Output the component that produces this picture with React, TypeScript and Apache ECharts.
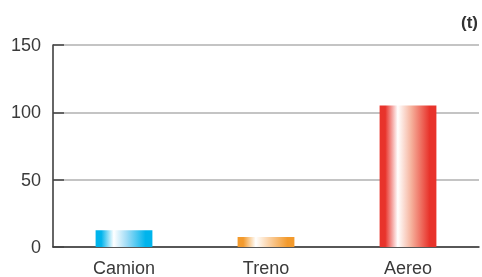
import React, { useEffect, useRef } from "react";
import * as echarts from "echarts";

const categories = ["Camion", "Treno", "Aereo"];
const values = [12.5, 7.5, 105];
const yTicks = { min: 0, max: 150, interval: 50 };
const unitLabel = "(t)";

const barColors = [
  { edge: "#00b4ec", mid: "#9fdcf6" },
  { edge: "#f39a2c", mid: "#fbd2a6" },
  { edge: "#e8332b", mid: "#f6b49f" },
];

const grad = (edge: string, mid: string) =>
  new echarts.graphic.LinearGradient(0, 0, 1, 0, [
    { offset: 0, color: edge },
    { offset: 0.1, color: edge },
    { offset: 0.32, color: "#ffffff" },
    { offset: 0.55, color: mid },
    { offset: 0.88, color: edge },
    { offset: 1, color: edge },
  ]);

export default function App() {
  const ref = useRef<HTMLDivElement>(null);
  useEffect(() => {
    if (!ref.current) return;
    const chart = echarts.init(ref.current, null, { renderer: "svg" });
    const font = "'Liberation Sans', Arial, sans-serif";
    chart.setOption({
      animation: false,
      grid: { left: 53, right: 3, top: 45, bottom: 29, containLabel: false },
      graphic: [
        {
          type: "text",
          right: 4,
          top: 14,
          style: {
            text: unitLabel,
            font: "bold 17px " + font,
            fill: "#333333",
          },
        },
      ],
      xAxis: {
        type: "category",
        data: categories,
        axisLine: { lineStyle: { color: "#333333", width: 1.5 } },
        axisTick: { length: 10, lineStyle: { color: "#444444", width: 1.5 } },
        axisLabel: { color: "#3a3a3a", fontSize: 18, fontFamily: font, margin: 12 },
      },
      yAxis: {
        type: "value",
        min: yTicks.min,
        max: yTicks.max,
        interval: yTicks.interval,
        axisLine: { show: true, lineStyle: { color: "#333333", width: 1.5 } },
        axisTick: { show: true, inside: true, length: 11, lineStyle: { color: "#444444", width: 1.5 } },
        splitLine: { show: true, lineStyle: { color: "#b0b0b0", width: 1.5 } },
        axisLabel: { color: "#3a3a3a", fontSize: 18, fontFamily: font, margin: 12 },
      },
      series: [
        {
          type: "bar",
          barWidth: "40%",
          data: values.map((v, i) => ({
            value: v,
            itemStyle: { color: grad(barColors[i].edge, barColors[i].mid) },
          })),
        },
      ],
    });
    return () => chart.dispose();
  }, []);
  return (
    <div
      ref={ref}
      style={{ position: "fixed", left: 0, top: 0, width: 482, height: 277 }}
    />
  );
}
